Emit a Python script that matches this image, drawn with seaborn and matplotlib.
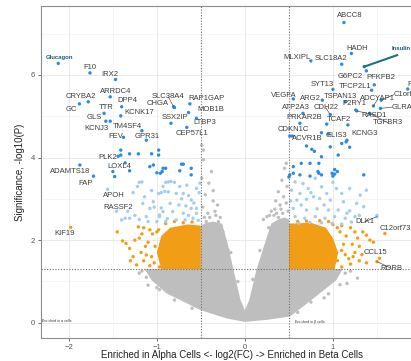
import seaborn as sns
import pandas as pd
import matplotlib.pyplot as plt

# volcano plot - alpha vs beta cells

# dense gray cloud outline (non significant genes)
gray_poly_x = [0.0, -0.2, -0.35, -0.51, -0.66, -0.89, -1.06, -1.14, -0.5, -0.5, -0.44, -0.36, -0.26,
               -0.2, -0.12, -0.05, 0.0, 0.05, 0.13, 0.25, 0.3, 0.38, 0.45, 0.5, 0.5, 1.11, 1.04, 0.85,
               0.66, 0.51, 0.25]
gray_poly_y = [0.02, 0.1, 0.2, 0.31, 0.47, 0.71, 1.03, 1.3, 1.3, 2.35, 2.42, 2.45, 2.4,
               1.95, 1.2, 0.55, 0.3, 0.55, 1.27, 2.08, 2.4, 2.5, 2.55, 2.5, 1.3, 1.3, 1.03, 0.71,
               0.39, 0.15, 0.07]

# dense orange cores
orange_left_x = [-0.5, -0.95, -1.0, -0.95, -0.85, -0.65, -0.5]
orange_left_y = [1.3, 1.3, 1.7, 2.1, 2.3, 2.38, 2.35]
orange_right_x = [0.5, 1.02, 1.06, 1.0, 0.92, 0.75, 0.5]
orange_right_y = [1.3, 1.3, 1.7, 2.05, 2.3, 2.42, 2.4]

gray_x = [-0.47, -0.38, -0.41, -0.45, -0.31, -0.36, -0.48, -0.42, -0.33, -0.28, -0.46, -0.23, -0.19,
          -0.36, -0.49, -0.44, 0.47, 0.45, 0.42, 0.48, 0.38, 0.44, 0.35, 0.4, 0.47, 0.3, 0.25, 0.21,
          0.33, 0.49, 0.43, 0.38, -1.10, 1.28, 1.16, 0.95, -1.2, -1.0, 0.75, 1.2, -0.49, -0.47,
          -1.17, -1.12, -0.97, -0.8, -0.6, -0.25, -0.3, -0.27, 0.28, 0.34, 0.27, 0.6, 0.9, 1.08, 1.14,
          -0.4, -0.34, 0.36, 0.41, -0.16, 0.17, -0.08, 0.09]
gray_y = [4.18, 3.66, 3.38, 3.1, 2.85, 2.95, 2.8, 2.65, 2.6, 2.55, 2.55, 2.0, 1.76,
          3.2, 3.5, 2.45, 3.86, 3.74, 3.45, 3.3, 3.17, 3.05, 2.95, 2.85, 2.9, 2.7, 2.57, 2.5,
          2.6, 2.7, 2.65, 2.55, 0.91, 1.08, 0.95, 0.7, 1.2, 0.85, 0.5, 1.25, 4.3, 3.95,
          1.25, 1.1, 0.8, 0.55, 0.35, 2.2, 2.45, 2.35, 2.6, 2.75, 2.3, 0.25, 0.6, 0.92, 1.2,
          2.55, 2.7, 2.65, 2.75, 1.7, 1.75, 1.0, 1.05]

orange_x = [-1.45, -1.39, -1.35, -1.31, -1.27, -1.23, -1.18, -1.12, -1.21, -1.15, -1.08, -1.1, -1.15,
            -1.08, -1.2, -1.05, -1.02, -0.98, -1.03, 1.34, 1.38, 1.42, 1.46, 1.3, 1.25, 1.23, 1.3, 1.2,
            1.15, 1.2, 1.1, 1.28, 1.12, 1.18, 1.38, 1.08, 1.1, 1.05,
            -1.25, -1.13, -1.06, -1.0, -0.97, -1.17, -1.3, -0.9, -0.8, -0.7, -0.6,
            1.05, 1.1, 1.14, 1.22, 1.33, 1.25, 1.0, 0.95, 0.85, 0.7, 0.6]
orange_y = [2.2, 1.98, 1.92, 1.8, 1.6, 1.4, 1.7, 1.64, 2.32, 2.3, 2.25, 1.95, 1.5,
            1.38, 2.05, 2.15, 1.85, 2.25, 1.45, 2.2, 2.12, 2.0, 1.95, 1.85, 1.7, 1.6, 1.5, 1.42,
            2.1, 2.3, 2.35, 2.05, 1.9, 1.55, 1.45, 2.2, 1.75, 1.5,
            2.0, 1.85, 1.6, 2.2, 1.35, 2.15, 1.5, 2.4, 2.45, 2.42, 2.44,
            2.3, 1.35, 1.65, 1.9, 1.65, 2.2, 2.38, 2.45, 2.47, 2.46, 2.45]

lblue_x = [-1.27, -1.22, -1.17, -1.2, -1.06, -0.98, -0.95, -0.91, -0.9, -0.93, -1.16, -1.08, -1.03,
           -0.95, -0.97, -1.12, -1.31, -1.36, -1.40, -1.25, -1.2, -0.87, -0.84, -0.80, -0.66, -0.74,
           -0.87, -0.78, -0.70, -0.64, -0.61, -0.55, -0.52, -1.04, -0.85, -0.75, -0.67, -0.61, -0.55,
           -0.93, -0.82, -0.70, -0.64, -0.55, -0.97, -0.88, -0.78, -0.68, -0.59, -0.53, -0.51, -1.0,
           -1.1, -0.9, -1.33, -1.14, -0.72, -0.58,
           0.57, 0.66, 0.80, 0.72, 0.53, 0.625, 0.78, 0.87, 0.93, 1.04, 1.10, 1.19, 1.31, 1.38, 0.59,
           0.70, 0.85, 0.97, 1.12, 1.27, 0.55, 0.70, 0.82, 0.95, 1.06, 1.19, 1.35, 0.57, 0.68, 0.80,
           0.91, 1.02, 1.14, 1.25, 0.61, 0.74, 0.87, 0.99, 1.10, 1.21, 1.5, 0.64, 0.9, 1.16, 1.0,
           0.75, 1.3, 0.52]
lblue_y = [3.15, 3.3, 3.41, 3.4, 3.2, 3.13, 3.15, 3.18, 3.4, 3.3, 2.89, 2.77, 2.8,
           2.78, 2.61, 2.57, 2.53, 2.53, 2.49, 2.6, 2.5, 3.41, 3.42, 3.40, 3.33, 3.3,
           3.17, 3.13, 3.13, 3.08, 2.97, 3.25, 3.15, 2.93, 2.89, 2.85, 2.83, 2.77, 2.77,
           2.69, 2.69, 2.65, 2.6, 2.65, 2.57, 2.52, 2.49, 2.49, 2.53, 2.48, 3.38, 2.45,
           2.45, 2.45, 2.7, 3.05, 3.0, 2.9,
           3.41, 3.37, 3.50, 3.25, 3.21, 3.13, 3.05, 3.29, 3.13, 3.25, 3.13, 3.25, 3.09, 3.21, 2.97,
           2.99, 3.01, 2.97, 2.93, 2.89, 2.77, 2.73, 2.76, 2.73, 2.73, 2.71, 2.81, 2.57, 2.53, 2.57,
           2.53, 2.57, 2.53, 2.57, 2.41, 2.43, 2.42, 2.41, 2.39, 2.44, 2.6, 2.85, 2.85, 2.65, 3.4,
           3.15, 2.6, 2.95]

blue_x = [-1.41, -1.41, -1.31, -1.21, -1.06, -0.98, -0.98, -0.72, -0.61, -0.61, -0.74, -1.0, -0.96,
          -0.94, -1.04, -1.08, -1.31, -1.48, -0.70, -0.90, -0.93, -1.50,
          0.51, 0.54, 0.70, 0.76, 0.79, 0.97, 1.10, 1.15, 1.19, 1.06, 0.87, 0.64, 0.74, 0.84, 0.55,
          1.02, 1.05, 0.84, 0.87, 0.99, 1.35, 0.55, 0.51, 0.50, 0.625, 0.74, 1.0, 1.02, 0.83]
blue_y = [4.18, 4.06, 4.09, 4.09, 4.09, 4.18, 4.06, 3.84, 3.74, 3.58, 3.68, 3.63, 3.62,
          3.66, 3.82, 3.78, 3.68, 3.54, 3.84, 3.74, 3.74, 3.66,
          4.52, 4.52, 4.28, 4.20, 4.15, 4.26, 4.34, 4.38, 4.25, 4.06, 4.02, 3.86, 3.86, 3.86, 3.78,
          3.71, 3.66, 3.62, 3.58, 3.62, 3.58, 3.62, 3.58, 3.53, 3.58, 3.55, 3.55, 3.60, 3.66]

# labelled genes
genes = ['Glucagon', 'F10', 'IRX2', 'ARRDC4', 'CRYBA2', 'GC', 'DPP4', 'TTR', 'KCNK17', 'GLS', 'KCNJ3',
         'TM4SF4', 'FEV', 'GPR31', 'SLC38A4', 'CHGA', 'RAP1GAP', 'MOB1B', 'SSX2IP', 'LTBP3', 'CEP57L1',
         'PLK2', 'LOXL4', 'ADAMTS18', 'FAP', 'APOH', 'RASSF2', 'KIF19',
         'ABCC8', 'HADH', 'MLXIPL', 'SLC18A2', 'Insulin', 'G6PC2', 'PFKFB2', 'PLCXD3', 'SYT13',
         'TFCP2L1', 'VEGFA', 'ARG2', 'TSPAN13', 'ADCYAP1', 'C1orf127', 'P2RY1', 'ATP2A3', 'CDH22',
         'GLRA1', 'RASD1', 'PRKAR2B', 'TCAF2', 'TGFBR3', 'CDKN1C', 'ACVR1B', 'GLIS3', 'KCNG3',
         'DLK1', 'C12orf73', 'CCL15', 'RORB']
gene_fc = [-2.12, -1.76, -1.47, -1.53, -1.78, -1.88, -1.40, -1.60, -1.41, -1.58, -1.53,
           -1.17, -1.38, -1.12, -0.81, -0.80, -0.625, -0.64, -0.84, -0.55, -0.66,
           -1.44, -1.36, -1.875, -1.72, -1.56, -1.46, -1.98,
           1.125, 1.21, 0.75, 1.10, 1.355, 1.38, 1.47, 1.85, 1.00,
           1.44, 0.55, 0.88, 1.14, 1.46, 1.55, 1.26, 0.66, 0.97,
           1.54, 1.27, 0.93, 1.17, 1.42, 0.625, 0.87, 0.95, 1.16,
           1.50, 1.59, 1.53, 1.50]
gene_p = [6.28, 6.05, 5.89, 5.47, 5.35, 5.30, 5.23, 5.07, 5.01, 4.88, 4.88,
          4.65, 4.49, 4.42, 5.23, 5.21, 5.30, 5.09, 4.83, 4.95, 4.73,
          4.03, 3.87, 3.82, 3.55, 3.23, 2.70, 2.31,
          7.27, 6.52, 6.34, 6.26, 6.20, 6.10, 5.76, 5.66, 5.65,
          5.63, 5.42, 5.39, 5.35, 5.25, 5.39, 5.15, 5.07, 5.04,
          5.19, 5.13, 4.81, 4.79, 5.07, 4.83, 4.60, 4.57, 4.42,
          2.57, 2.16, 1.56, 1.48]
gene_grp = ['blue'] * 25 + ['lblue', 'lblue', 'orange'] + ['blue'] * 27 + ['lblue', 'orange', 'orange', 'orange']

# label placement (data coords, centre of text; some use left edge)
label_xy = [(-2.11, 6.43), (-1.76, 6.17), (-1.54, 6.02), (-1.47, 5.61), (-1.86, 5.47), (-1.97, 5.17),
            (-1.33, 5.37), (-1.58, 5.22), (-1.20, 5.08), (-1.71, 4.96), (-1.69, 4.71), (-1.33, 4.76),
            (-1.47, 4.50), (-1.11, 4.50), (-0.87, 5.47), (-0.99, 5.30), (-0.44, 5.42), (-0.39, 5.17),
            (-0.79, 4.96), (-0.46, 4.84), (-0.60, 4.59), (-1.56, 4.01), (-1.43, 3.79), (-1.99, 3.65),
            (-1.81, 3.38), (-1.49, 3.09), (-1.44, 2.80), (-2.05, 2.17),
            (1.19, 7.43), (1.28, 6.65), (0.59, 6.43), (0.98, 6.39), (1.67, 6.63), (1.20, 5.97),
            (1.54, 5.95), (1.85, 5.78), (0.875, 5.76), (1.25, 5.73), (0.44, 5.51), (0.74, 5.44),
            (1.09, 5.49), (1.51, 5.42), (1.69, 5.52), (1.24, 5.30), (0.585, 5.20), (0.92, 5.20),
            (1.67, 5.22), (1.47, 5.03), (0.68, 4.98), (1.07, 4.91), (1.625, 4.84), (0.55, 4.69),
            (0.71, 4.47), (1.045, 4.54), (1.36, 4.59), (1.36, 2.44), (1.53, 2.29), (1.48, 1.71),
            (1.66, 1.32)]
left_aligned = ['Insulin', 'PLCXD3', 'C1orf127', 'GLRA1', 'C12orf73']
segments = ['SLC38A4', 'GLRA1', 'RORB', 'DLK1', 'C1orf127', 'ADCYAP1', 'TGFBR3', 'RASD1', 'CDH22']

colors = {'gray': '#BEBEBE', 'orange': '#F29D16', 'lblue': '#A3CDEE', 'blue': '#2B8BE3'}

df = pd.DataFrame({
    'log2FC': gray_x + orange_x + lblue_x + blue_x + gene_fc,
    'logP': gray_y + orange_y + lblue_y + blue_y + gene_p,
    'grp': ['gray'] * len(gray_x) + ['orange'] * len(orange_x) + ['lblue'] * len(lblue_x)
           + ['blue'] * len(blue_x) + gene_grp,
})

plt.rcParams['font.family'] = ['Liberation Sans', 'DejaVu Sans']
fig = plt.figure(figsize=(4.11, 3.61), dpi=100)
ax = fig.add_axes([0.099, 0.0637, 0.9423, 0.9197])

ax.fill(gray_poly_x, gray_poly_y, color=colors['gray'], lw=0, zorder=1)
ax.fill(orange_left_x, orange_left_y, color=colors['orange'], lw=0, zorder=1)
ax.fill(orange_right_x, orange_right_y, color=colors['orange'], lw=0, zorder=1)

sns.scatterplot(data=df, x='log2FC', y='logP', hue='grp', palette=colors, s=6, linewidth=0,
                legend=False, ax=ax, zorder=2)

# threshold lines
for v in [-0.5, 0.5]:
    ax.axvline(v, color='#707070', lw=0.8, ls=(0, (1, 1.5)), zorder=3)
ax.axhline(1.3, color='#707070', lw=0.8, ls=(0, (1, 1.5)), zorder=3)

for g, fc, p, (lx, ly) in zip(genes, gene_fc, gene_p, label_xy):
    ha = 'left' if g in left_aligned else 'center'
    if g in ('Glucagon', 'Insulin'):
        ax.text(lx, ly, g, fontsize=4.3, fontweight='bold', color='#1F5A78', ha=ha, va='center', zorder=5)
        if g == 'Insulin':
            ax.plot([fc, 1.73], [p, 6.48], color='#1F6E86', lw=1.5, zorder=4)
        continue
    if g in segments:
        ax.plot([fc, lx], [p, ly], color='#555555', lw=0.5, zorder=4)
    ax.text(lx, ly, g, fontsize=5.5, color='#3C3C3C', ha=ha, va='center', zorder=5)

ax.text(-2.30, 0.04, 'Enriched in \u03b1 cells', fontsize=2.6, color='#333333', va='center')
ax.text(0.57, 0.02, 'Enriched in \u03b2 cells', fontsize=2.6, color='#333333', va='center')

ax.set_xlim(-2.32, 2.08)
ax.set_ylim(-0.37, 7.67)
ax.set_xticks([-2, -1, 0, 1])
ax.set_yticks([0, 2, 4, 6])
ax.set_xticks([-1.5, -0.5, 0.5, 1.5], minor=True)
ax.set_yticks([1, 3, 5, 7], minor=True)
ax.grid(True, which='major', color='#E6E6E6', lw=0.6, zorder=0)
ax.grid(True, which='minor', color='#F0F0F0', lw=0.4, zorder=0)
ax.set_axisbelow(True)
ax.tick_params(which='major', length=2.5, width=0.6, color='#555555', labelsize=5.5,
               labelcolor='#555555', pad=1.5)
ax.tick_params(which='minor', length=0)
for s in ax.spines.values():
    s.set_color('#8C8C8C')
    s.set_linewidth(0.8)

ax.set_xlabel('Enriched in Alpha Cells <- log2(FC) -> Enriched in Beta Cells', fontsize=7, color='#222222')
ax.set_ylabel('Significance, -log10(P)', fontsize=7, color='#222222')
ax.xaxis.set_label_coords(0.494, -0.035)
ax.yaxis.set_label_coords(-0.04, 0.5)

fig.savefig('out.png', dpi=100)
